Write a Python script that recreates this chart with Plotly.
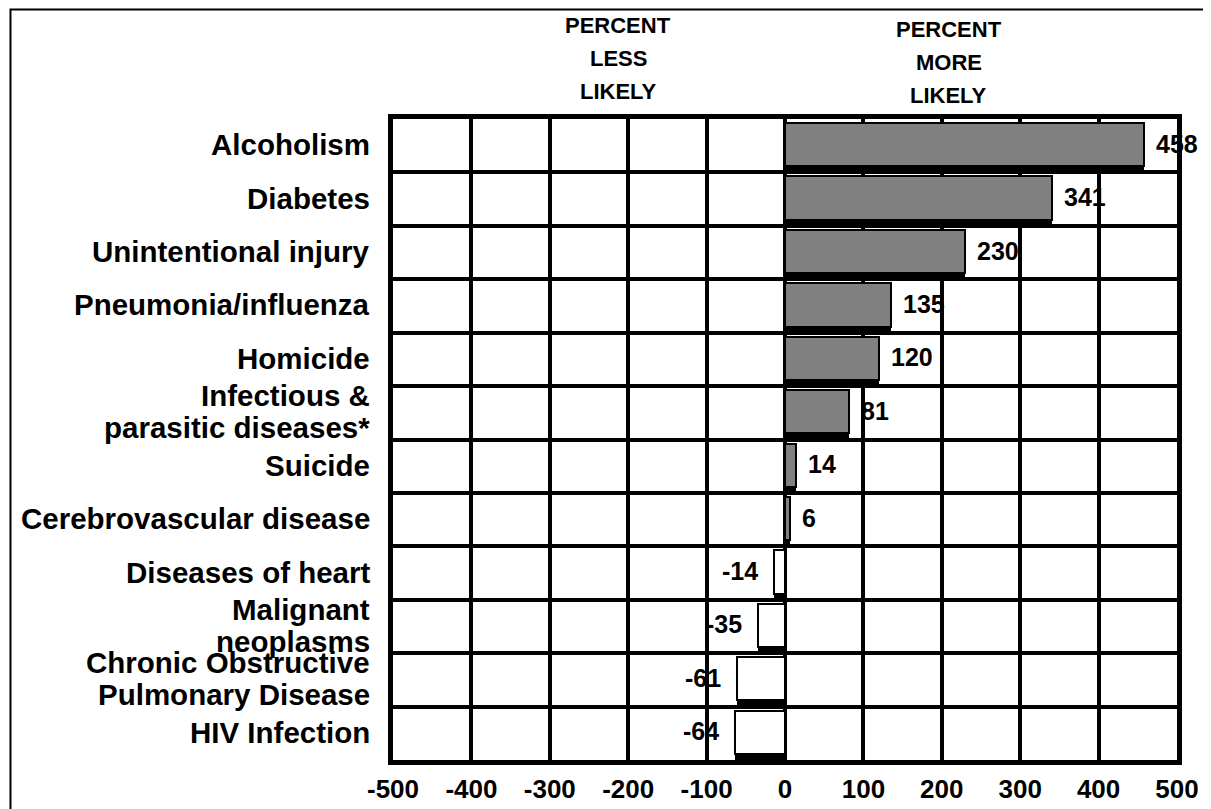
import plotly.graph_objects as go

categories = ["Alcoholism", "Diabetes", "Unintentional injury", "Pneumonia/influenza",
              "Homicide", "Infectious &\nparasitic diseases*", "Suicide",
              "Cerebrovascular disease", "Diseases of heart", "Malignant\nneoplasms",
              "Chronic Obstructive\nPulmonary Disease", "HIV Infection"]
values = [458, 341, 230, 135, 120, 81, 14, 6, -14, -35, -61, -64]
x_ticks = [-500, -400, -300, -200, -100, 0, 100, 200, 300, 400, 500]
header_less = ["PERCENT", "LESS", "LIKELY"]
header_more = ["PERCENT", "MORE", "LIKELY"]

FONT = "Liberation Sans, Arial, Helvetica, sans-serif"
pos = list(range(len(categories)))
fills = ["#808080" if v > 0 else "#ffffff" for v in values]

# page offset (body margin) and figure size
OFF = 8
FW, FH = 1211 - OFF, 809 - OFF
# plot-area edges in screen pixels
L, R, T, B = 392.5, 1177.5, 119, 760
Lf, Rf, Tf, Bf = L - OFF, R - OFF, T - OFF, B - OFF
W, H = Rf - Lf, Bf - Tf
def px(x):
    return (x - OFF - Lf) / W
def py(y):
    return (Bf - (y - OFF)) / H

fig = go.Figure()
# dark shadow under each bar
fig.add_trace(go.Bar(x=values, y=pos, orientation="h", offset=-0.425, width=0.925,
                     marker=dict(color="#000000", line=dict(width=0)),
                     hoverinfo="skip", showlegend=False))
# main bars
fig.add_trace(go.Bar(x=values, y=pos, orientation="h", offset=-0.425, width=0.81,
                     marker=dict(color=fills, line=dict(color="#000000", width=2)),
                     showlegend=False))

annotations = []
# value labels
for v, p in zip(values, pos):
    annotations.append(dict(x=v, y=p, xref="x", yref="y", text="<b>%d</b>" % v,
                            showarrow=False,
                            xanchor="left" if v > 0 else "right",
                            xshift=10 if v > 0 else -14, yshift=2,
                            font=dict(family=FONT, size=25, color="#000000")))
# category labels
for c, p in zip(categories, pos):
    lines = c.split("\n")
    if len(lines) == 1:
        shifts = [0]
    else:
        shifts = [16, -16]
    for ln, s in zip(lines, shifts):
        annotations.append(dict(x=px(371), y=p, xref="paper", yref="y",
                                text="<b>%s</b>" % ln, showarrow=False,
                                xanchor="right", yanchor="middle", yshift=s + 1,
                                font=dict(family=FONT, size=29.5, color="#000000")))
# headers
for i, t in enumerate(header_less):
    annotations.append(dict(x=px(618), y=py(26 + 32.5 * i), xref="paper", yref="paper",
                            text="<b>%s</b>" % t, showarrow=False, xanchor="center",
                            yanchor="middle", font=dict(family=FONT, size=22, color="#000")))
for i, t in enumerate(header_more):
    annotations.append(dict(x=px(949), y=py(30 + 33 * i), xref="paper", yref="paper",
                            text="<b>%s</b>" % t, showarrow=False, xanchor="center",
                            yanchor="middle", font=dict(family=FONT, size=22, color="#000")))

fig.update_layout(
    width=FW, height=FH,
    margin=dict(l=Lf, r=FW - Rf, t=Tf, b=FH - Bf, pad=0),
    paper_bgcolor="#ffffff", plot_bgcolor="#ffffff",
    barmode="overlay", bargap=0,
    annotations=annotations,
    shapes=[dict(type="rect", xref="paper", yref="paper",
                 x0=px(OFF + 1.5), x1=px(1208), y0=py(840), y1=py(OFF + 1.5),
                 line=dict(color="#000000", width=2), fillcolor="rgba(0,0,0,0)",
                 layer="below")],
    xaxis=dict(range=[-500, 500], tickvals=x_ticks,
               ticktext=["<b>%d</b>" % t for t in x_ticks],
               showgrid=True, gridcolor="#000000", gridwidth=4,
               zeroline=True, zerolinecolor="#000000", zerolinewidth=4,
               showline=True, linecolor="#000000", linewidth=5, mirror=True,
               ticks="", ticklabelstandoff=2, automargin=False,
               tickfont=dict(family=FONT, size=26, color="#000000"), fixedrange=True),
    yaxis=dict(range=[len(categories) - 0.5, -0.5], tickvals=pos,
               showticklabels=False, automargin=False,
               showgrid=False, zeroline=False,
               showline=True, linecolor="#000000", linewidth=5, mirror=True,
               ticks="",
               minor=dict(tickvals=[p + 0.5 for p in pos[:-1]], showgrid=True,
                          gridcolor="#000000", gridwidth=4, ticks=""),
               fixedrange=True),
)
fig.write_html("out.html")
